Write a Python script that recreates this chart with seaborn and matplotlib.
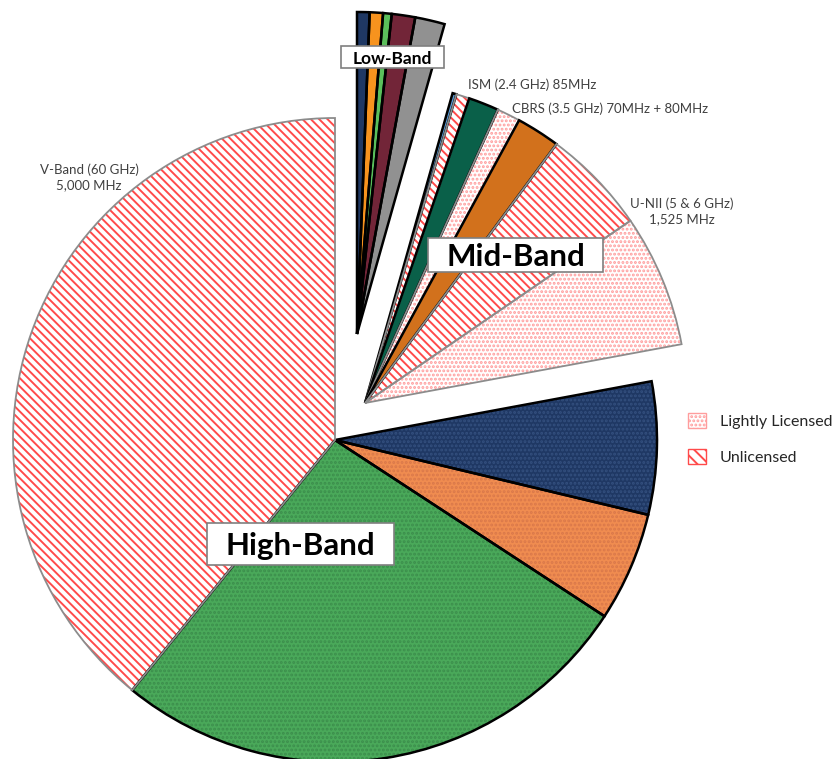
import matplotlib
matplotlib.use("Agg")
import matplotlib.pyplot as plt
import seaborn as sns
from matplotlib.patches import Patch, Rectangle

sns.set_theme(style="white")
plt.rcParams['font.family'] = ['Lato', 'DejaVu Sans']
plt.rcParams['hatch.linewidth'] = 1.4

# ---------------- data (MHz), clockwise from 12 o'clock ----------------
low_names = ["600 MHz", "700 MHz", "800 MHz", "PCS", "AWS"]
low_values = [80, 85, 55, 150, 190]

mid_names = ["WCS", "ISM (2.4 GHz)", "BRS/EBS (2.5 GHz)", "CBRS (3.5 GHz)",
             "C-Band (3.7 GHz)", "U-NII unlicensed", "U-NII lightly licensed"]
mid_values = [25, 85, 194, 150, 280, 675, 850]

high_names = ["28 GHz", "24 GHz", "37/39/47 GHz", "V-Band (60 GHz)"]
high_values = [850, 700, 3400, 5000]

group_names = ["Low-Band", "Mid-Band", "High-Band"]
legend_labels = ["Lightly Licensed", "Unlicensed"]

categories = low_names + mid_names + high_names
values = low_values + mid_values + high_values
groups = (["Low-Band"] * len(low_values) + ["Mid-Band"] * len(mid_values)
          + ["High-Band"] * len(high_values))

# ---------------- styles ----------------
# kind: solid / unlic / light / dsolid (solid with fine dots)
kinds = ["solid"] * 5 + ["solid", "unlic", "solid", "light", "solid", "unlic", "light"] \
        + ["dsolid", "dsolid", "dsolid", "unlic"]
faces = ["#1F3864", "#F7931E", "#5BBF5B", "#722538", "#919191",
         "#5B9BD5", "white", "#0A6049", "white", "#D2711C", "white", "white",
         "#1F3864", "#F08C50", "#4AA95A", "white"]
dot_colors = {12: "#34507F", 13: "#D9784A", 14: "#3C8E4C"}
UNLIC = "#FF4A4A"
LIGHT = "#FF9D9D"

W, H = 837, 759
R = 322
centers = {"High-Band": (335, H - 440), "Mid-Band": (365, H - 403), "Low-Band": (357, H - 334)}

fig = plt.figure(figsize=(W / 100, H / 100), dpi=100)
ax = fig.add_axes([0, 0, 1, 1])

for g in ["High-Band", "Mid-Band", "Low-Band"]:
    # fill / pattern pass
    wedges, _ = ax.pie(values, radius=R, center=centers[g], startangle=90,
                       counterclock=False, colors=faces,
                       wedgeprops=dict(linewidth=0))
    for i, w in enumerate(wedges):
        if groups[i] != g:
            w.set_visible(False)
            continue
        k = kinds[i]
        if k == "unlic":
            w.set_edgecolor(UNLIC)
            w.set_hatch("\\\\\\\\")
        elif k == "light":
            w.set_edgecolor(LIGHT)
            w.set_hatch("....")
        elif k == "dsolid":
            w.set_edgecolor(dot_colors[i])
            w.set_hatch("....")
        w.set_linewidth(0)
    # outline pass
    outl, _ = ax.pie(values, radius=R, center=centers[g], startangle=90,
                     counterclock=False, wedgeprops=dict(fill=False))
    for i, w in enumerate(outl):
        if groups[i] != g:
            w.set_visible(False)
            continue
        if kinds[i] in ("unlic", "light"):
            w.set_edgecolor("#8C8C8C")
            w.set_linewidth(1.3)
        else:
            w.set_edgecolor("black")
            w.set_linewidth(1.8)

ax.set_xlim(0, W)
ax.set_ylim(0, H)
ax.set_aspect("equal")
ax.set_axis_off()


def boxed(x0, y0, x1, y1, text, size):
    ax.add_patch(Rectangle((x0, H - y1), x1 - x0, y1 - y0, facecolor="white",
                           edgecolor="#7F7F7F", linewidth=1.2, zorder=5))
    ax.text((x0 + x1) / 2, H - (y0 + y1) / 2, text, ha="center", va="center_baseline",
            fontsize=size, fontweight="bold", color="black", zorder=6)


boxed(341, 46, 444, 68, group_names[0], 12.5)
boxed(428, 238, 603, 272, group_names[1], 22.5)
boxed(207, 523, 394, 565, group_names[2], 22.5)

lab = dict(fontsize=9.5, color="#404040")
ax.text(468, H - 85, "ISM (2.4 GHz) 85MHz", ha="left", va="center", **lab)
ax.text(512, H - 109, "CBRS (3.5 GHz) 70MHz + 80MHz", ha="left", va="center", **lab)
ax.text(682, H - 211, "U-NII (5 & 6 GHz)\n1,525 MHz", ha="center", va="center",
        linespacing=1.3, **lab)
ax.text(89, H - 177, "V-Band (60 GHz)\n5,000 MHz", ha="center", va="center",
        linespacing=1.3, **lab)

handles = [Patch(facecolor="white", edgecolor=LIGHT, hatch="....", linewidth=1),
           Patch(facecolor="white", edgecolor=UNLIC, hatch="\\\\\\", linewidth=1)]
leg = ax.legend(handles, legend_labels, loc="upper left",
                bbox_to_anchor=(688 / W, 1 - 413 / H), frameon=False, fontsize=11.5,
                handlelength=1.1, handleheight=1.1, labelspacing=1.25,
                handletextpad=0.9, borderpad=0, borderaxespad=0)
for t in leg.get_texts():
    t.set_color("#262626")

fig.savefig("out.png", dpi=100)
